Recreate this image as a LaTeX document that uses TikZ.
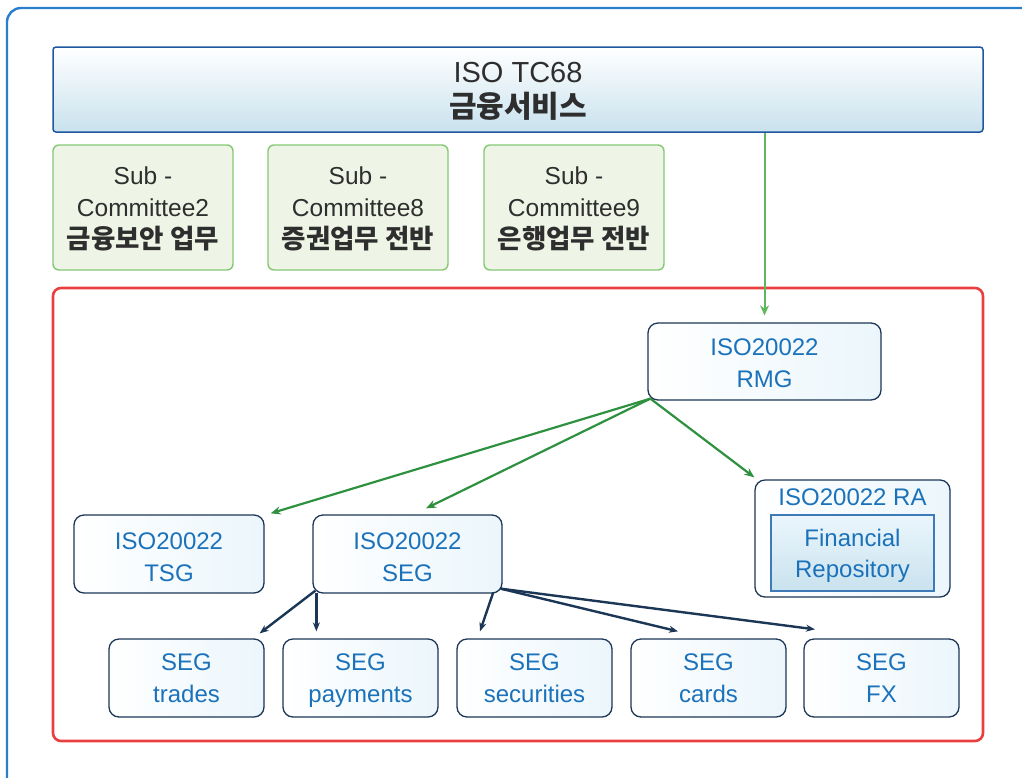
\documentclass[tikz,border=0pt]{standalone}
\usepackage{fontspec}
\setmainfont{Liberation Sans}
\newfontfamily\kr{Noto Sans CJK KR}
\usetikzlibrary{arrows.meta}
\definecolor{txtblue}{HTML}{1B72BA}
\definecolor{navy}{HTML}{1C3656}
\definecolor{grn}{HTML}{2E9140}
\definecolor{lgrn}{HTML}{5DB85C}
\definecolor{outerblue}{HTML}{2A7FCC}
\definecolor{redb}{HTML}{E8403F}
\definecolor{subfill}{HTML}{EEF5E6}
\definecolor{subdraw}{HTML}{86C774}
\definecolor{topdraw}{HTML}{1F57A0}
\definecolor{topbot}{HTML}{C9E2EE}
\definecolor{bluefill}{HTML}{EBF6FC}
\definecolor{frdraw}{HTML}{3D7AB8}
\definecolor{darktxt}{HTML}{2E2E2E}
\tikzset{
  bbox/.style={draw=navy, line width=1.3pt, rounded corners=10pt, left color=white, right color=bluefill,
    text=txtblue, align=center, font=\fontsize{24}{31.5}\selectfont, inner sep=0pt, text depth=0pt},
  subbox/.style={draw=subdraw, line width=1.4pt, rounded corners=6pt, fill=subfill,
    text=darktxt, align=center, font=\fontsize{24.5}{32}\selectfont, inner sep=0pt,
    minimum width=180pt, minimum height=125pt, text depth=0pt},
  segbox/.style={bbox, minimum width=155pt, minimum height=78pt},
  garrow/.style={draw=grn, line width=2.2pt, -{Stealth[length=10pt,width=8pt]}},
  narrow/.style={draw=navy, line width=2.4pt, -{Stealth[length=9pt,width=7pt]}},
}
\newcommand{\krb}[1]{{\kr\bfseries\fontsize{26.5}{32}\selectfont #1}}
\begin{document}
\begin{tikzpicture}[x=1pt,y=-1pt]
\useasboundingbox (0,0) rectangle (1022,777);
\clip (0,0) rectangle (1022,777);
\draw[outerblue, line width=2.4pt, rounded corners=14pt] (7,8) rectangle (1045,800);

\node[draw=topdraw, line width=1.5pt, rounded corners=3pt, top color=white, bottom color=topbot,
  minimum width=930pt, minimum height=85pt, inner sep=0pt, align=center, text=darktxt,
  font=\fontsize{29}{35}\selectfont, text depth=0pt]
  (tc) at (518,89.5) {ISO TC68\\{\kr\bfseries\fontsize{30}{35}\selectfont 금융서비스}};

\node[subbox] (s2) at (143,207.5) {Sub -\\Committee2\\\krb{금융보안 업무}};
\node[subbox] (s8) at (358,207.5) {Sub -\\Committee8\\\krb{증권업무 전반}};
\node[subbox] (s9) at (574,207.5) {Sub -\\Committee9\\\krb{은행업무 전반}};

\node[draw=redb, line width=2.6pt, rounded corners=8pt, minimum width=930pt, minimum height=453pt, inner sep=0pt] (red) at (518,514.5) {};

\node[bbox, minimum width=233pt, minimum height=77pt, text height=51pt] (rmg) at (764.5,361.5) {ISO20022\\RMG};
\node[bbox, minimum width=190pt, minimum height=78pt, text height=54pt] (tsg) at (169,554) {ISO20022\\TSG};
\node[bbox, minimum width=189pt, minimum height=78pt, text height=54pt] (seg) at (407.5,554) {ISO20022\\SEG};
\node[bbox, minimum width=195pt, minimum height=117pt] (ra) at (852.5,538.5) {};
\node[text=txtblue, font=\fontsize{24}{31}\selectfont, inner sep=0pt] (ratitle) at (852.5,497) {ISO20022 RA};
\node[draw=frdraw, line width=1.3pt, top color=bluefill, bottom color=topbot, text=txtblue, align=center,
  font=\fontsize{24}{31}\selectfont, minimum width=163pt, minimum height=76pt, inner sep=0pt, text depth=0pt] (fr) at (852.5,553) {Financial\\Repository};

\node[segbox] (trades) at (186.5,678) {SEG\\trades};
\node[segbox] (pay) at (360.5,678) {SEG\\payments};
\node[segbox] (sec) at (534.5,678) {SEG\\securities};
\node[segbox] (cards) at (708.5,678) {SEG\\cards};
\node[segbox] (fx) at (881.5,678) {SEG\\FX};

\draw[draw=lgrn, line width=2pt, -{Stealth[length=10pt,width=9pt]}, shorten >=7pt]
  (tc.south -| rmg.north) -- (rmg.north);

\draw[garrow] ([shift={(3pt,2pt)}]rmg.south west) -- ([shift={(6pt,1pt)}]tsg.north east);
\draw[garrow] ([shift={(3pt,2pt)}]rmg.south west) -- ([shift={(18.5pt,6pt)}]seg.north);
\draw[garrow] ([shift={(3pt,2pt)}]rmg.south west) -- ([shift={(0pt,2pt)}]ra.north west);

\draw[narrow] ([shift={(3pt,3pt)}]seg.south west) -- ([shift={(-5pt,5pt)}]trades.north east);
\draw[narrow] ([shift={(4pt,1pt)}]seg.south west) -- ([shift={(4pt,7pt)}]seg.south west |- pay.north);
\draw[narrow] ([shift={(-9.5pt,1pt)}]seg.south east) -- ([shift={(-54.5pt,7pt)}]sec.north);
\draw[narrow] ([shift={(-2pt,5pt)}]seg.south east) -- ([shift={(-30.5pt,7pt)}]cards.north);
\draw[narrow] ([shift={(-2pt,5pt)}]seg.south east) -- ([shift={(-66.5pt,9pt)}]fx.north);
\end{tikzpicture}
\end{document}
